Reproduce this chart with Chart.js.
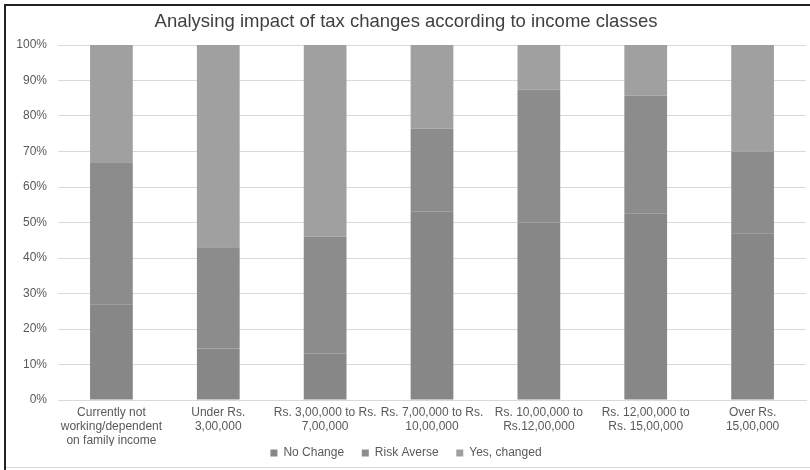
<!DOCTYPE html>
<html>
<head>
<meta charset="utf-8">
<script src="https://cdn.jsdelivr.net/npm/chart.js@4"></script>
<style>
  body { margin: 0; background: #fff; overflow: hidden; }
  .edge { position: absolute; }
  #top { left: 4px; top: 4px; width: 806px; height: 2px; background: #222; }
  #left { left: 4px; top: 4px; width: 2px; height: 466px; background: #222; }
  #bottom { left: 6px; top: 467px; width: 804px; height: 1px; background: #d9d9d9; }
  #chart { position: absolute; left: 6px; top: 6px; }
</style>
</head>
<body>
<div class="edge" id="top"></div>
<div class="edge" id="left"></div>
<div class="edge" id="bottom"></div>
<canvas id="chart" width="804" height="464"></canvas>
<script>
// income classes (x axis)
const categories = [
    ["Currently not", "working/dependent", "on family income"],
    ["Under Rs.", "3,00,000"],
    ["Rs. 3,00,000 to Rs.", "7,00,000"],
    ["Rs. 7,00,000 to Rs.", "10,00,000"],
    ["Rs. 10,00,000 to", "Rs.12,00,000"],
    ["Rs. 12,00,000 to", "Rs. 15,00,000"],
    ["Over Rs.", "15,00,000"]
];

// share of respondents, in %
const noChange = [27, 14.5, 13, 53, 50, 52.5, 47];
const riskAverse = [40, 28.5, 33, 23.5, 37.5, 33.2, 23];
const yesChanged = [33, 57, 54, 23.5, 12.5, 14.3, 30];

const yTicks = [0, 10, 20, 30, 40, 50, 60, 70, 80, 90, 100];

const textColor = "#595959";
const family = "'Liberation Sans', Arial, sans-serif";
const font = { family: family, size: 12, lineHeight: 1.17 };

new Chart(document.getElementById("chart"), {
    type: "bar",
    data: {
        labels: categories,
        datasets: [
            { label: "No Change", data: noChange, backgroundColor: "#878787" },
            { label: "Risk Averse", data: riskAverse, backgroundColor: "#8c8c8c" },
            { label: "Yes, changed", data: yesChanged, backgroundColor: "#a0a0a0" }
        ]
    },
    options: {
        responsive: false,
        animation: false,
        layout: { padding: { left: 0, right: 4, top: 0, bottom: 1 } },
        datasets: { bar: { categoryPercentage: 1, barPercentage: 0.4 } },
        scales: {
            x: {
                stacked: true,
                afterFit: (scale) => { scale.height = 46; },
                grid: { display: false, drawTicks: false },
                border: { color: "#d9d9d9" },
                ticks: { color: textColor, font: font, maxRotation: 0, autoSkip: false, padding: 6 }
            },
            y: {
                stacked: true,
                min: 0,
                max: 100,
                afterBuildTicks: (scale) => { scale.ticks = yTicks.map(v => ({ value: v })); },
                afterFit: (scale) => { scale.width = 52; },
                grid: { color: "#d9d9d9", drawTicks: false },
                border: { display: false },
                ticks: { color: textColor, font: { family: family, size: 12 }, padding: 11, callback: (v) => v + "%" }
            }
        },
        plugins: {
            title: {
                display: true,
                text: "Analysing impact of tax changes according to income classes",
                color: "#404040",
                font: { family: family, size: 18.5, weight: "normal", lineHeight: 1.2 },
                padding: { top: 5, bottom: 11.8 }
            },
            legend: {
                position: "bottom",
                labels: {
                    color: textColor,
                    font: { family: family, size: 12 },
                    boxWidth: 7,
                    boxHeight: 7,
                    padding: 1,
                    // widen the gap between items without extra vertical padding
                    generateLabels: (chart) => {
                        const items = Chart.defaults.plugins.legend.labels.generateLabels(chart);
                        items.forEach((it, i) => { if (i < items.length - 1) it.text += "     "; });
                        return items;
                    }
                }
            },
            tooltip: { enabled: false }
        }
    }
});
</script>
</body>
</html>
